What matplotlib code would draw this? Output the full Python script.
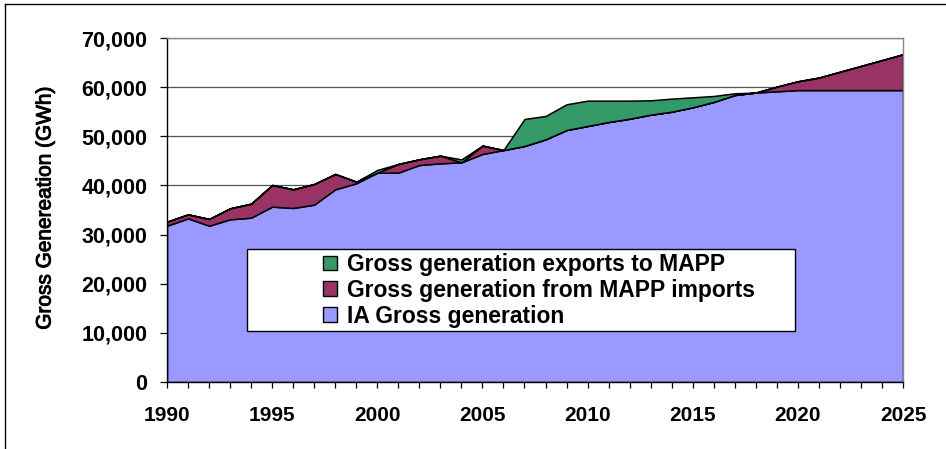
import numpy as np
import matplotlib
matplotlib.use("Agg")
import matplotlib.pyplot as plt
import matplotlib.patheffects as pe
from matplotlib.patches import Rectangle, Patch
from matplotlib.lines import Line2D
from matplotlib.ticker import FuncFormatter, MultipleLocator

## data (GWh)
years = np.arange(1990, 2026)
ia_gen = [31800, 33300, 31800, 33100, 33440, 35680, 35410, 36090, 39210, 40430,
          42600, 42600, 44160, 44500, 44700, 46400, 47200, 48030, 49380, 51280,
          52100, 52910, 53580, 54400, 55010, 55900, 57000, 58400, 58900, 59150,
          59400, 59400, 59400, 59400, 59400, 59400]
imports = [820, 820, 1370, 2240, 2850, 4410, 3800, 4200, 3120, 340,
           0, 1760, 1160, 1560, 0, 1700, 0, 0, 0, 0,
           0, 0, 0, 0, 0, 0, 0, 0, 0, 950,
           1790, 2540, 3730, 4910, 6100, 7290]
exports = [0, 0, 0, 0, 0, 0, 0, 0, 0, 0,
           550, 0, 0, 0, 600, 0, 0, 5490, 4750, 5230,
           5150, 4340, 3670, 2920, 2650, 2030, 1200, 350, 0, 0,
           0, 0, 0, 0, 0, 0]
labels = ["Gross generation exports to MAPP",
          "Gross generation from MAPP imports",
          "IA Gross generation"]
colors = {"ia": "#9999FF", "imp": "#993366", "exp": "#339966"}

plt.rcParams['font.family'] = ['Liberation Sans', 'DejaVu Sans']

fig = plt.figure(figsize=(9.46, 4.49), dpi=100)
ax = fig.add_axes([167/946, 1-382/449, 736/946, 344/449])

ax.stackplot(years, ia_gen, imports, exports,
             colors=[colors["ia"], colors["imp"], colors["exp"]],
             edgecolor="black", linewidth=1.1, zorder=2)

ax.set_xlim(1990, 2025)
ax.set_ylim(0, 70000)

## grid + spines
ax.yaxis.set_major_locator(MultipleLocator(10000))
ax.grid(axis="y", color="#555555", linewidth=0.9, zorder=0)
ax.set_axisbelow(True)
for s in ["top", "right"]:
    ax.spines[s].set_color("#888888")
    ax.spines[s].set_linewidth(1.0)
for s in ["left", "bottom"]:
    ax.spines[s].set_color("black")
    ax.spines[s].set_linewidth(1.0)

ax.yaxis.set_major_formatter(FuncFormatter(lambda v, p: f"{int(v):,}"))
ax.tick_params(axis="y", direction="out", length=5, width=0.9, pad=9,
               labelsize=15.5)
for t in ax.get_yticklabels():
    t.set_fontweight("bold")

ax.xaxis.set_major_locator(MultipleLocator(5))
ax.xaxis.set_minor_locator(MultipleLocator(1))
ax.tick_params(axis="x", which="both", direction="out", length=4.5, width=0.9)
ax.tick_params(axis="x", which="major", pad=13)
ax.set_xticks(np.arange(1990, 2026, 5))
ax.set_xticklabels([str(y) for y in range(1990, 2026, 5)],
                   family=['Liberation Sans Narrow', 'Liberation Sans'],
                   fontweight="bold", fontsize=15)

ylab = fig.text(45/946, 1-208/449, "Gross Genereation (GWh)", rotation=90,
                ha="center", va="center", fontsize=15)
ylab.set_path_effects([pe.withStroke(linewidth=0.7, foreground="black")])

## legend box drawn as its own rectangle
box = Rectangle(((247-167)/736, (382-331)/344), (795-247)/736, (331-249)/344,
                transform=ax.transAxes, facecolor="white", edgecolor="black",
                linewidth=1.0, zorder=5)
ax.add_patch(box)
handles = [Patch(facecolor=colors["exp"], edgecolor="black", linewidth=1.0),
           Patch(facecolor=colors["imp"], edgecolor="black", linewidth=1.0),
           Patch(facecolor=colors["ia"], edgecolor="black", linewidth=1.0)]
leg = ax.legend(handles, labels, loc="upper left",
                bbox_to_anchor=((323-167)/736, (382-253)/344),
                frameon=False, borderpad=0, borderaxespad=0,
                handlelength=0.6, handleheight=0.6, handletextpad=0.45,
                labelspacing=0.12, prop={"weight": "bold", "size": 16.5})
leg.set_zorder(6)

## outer frame lines (top and left only visible)
fig.add_artist(Line2D([4.5/946, 1], [1-3.5/449, 1-3.5/449],
                      transform=fig.transFigure, color="black", linewidth=1.0))
fig.add_artist(Line2D([4.5/946, 4.5/946], [0, 1-3.5/449],
                      transform=fig.transFigure, color="black", linewidth=1.0))

fig.savefig("out.png", dpi=100)
